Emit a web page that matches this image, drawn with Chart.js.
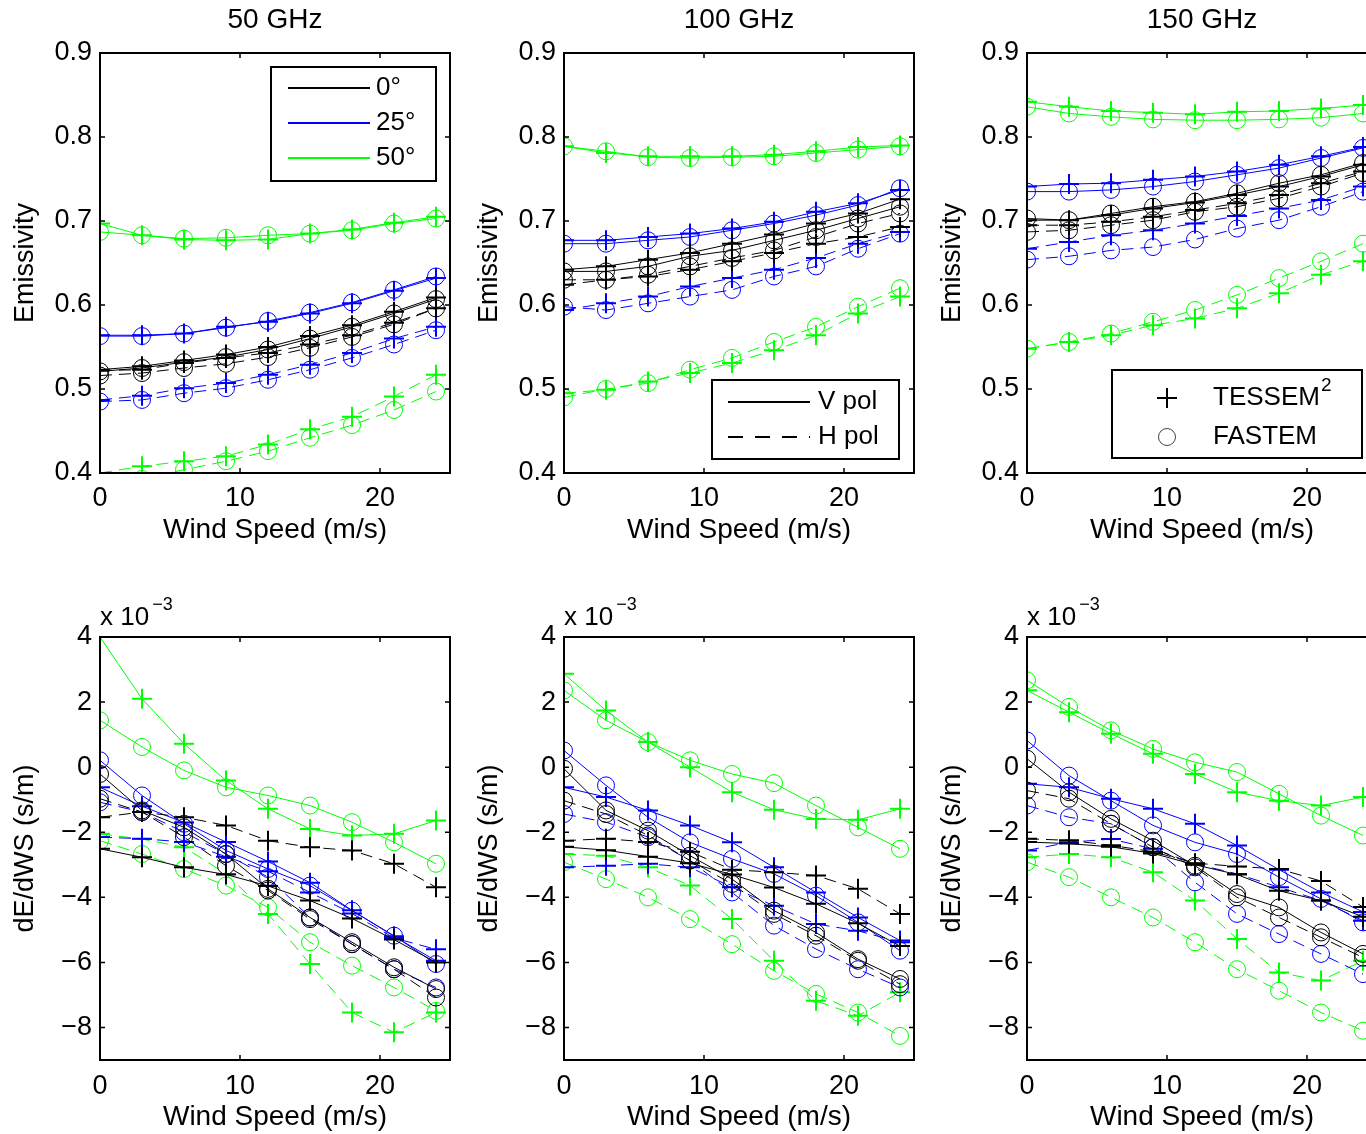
<!DOCTYPE html>
<html><head><meta charset="utf-8">
<script src="https://cdn.jsdelivr.net/npm/chart.js@4.4.1/dist/chart.umd.min.js"></script>
<style>
html,body{margin:0;padding:0;background:#fff;overflow:hidden;}
#wrap{position:relative;width:1366px;height:1134px;overflow:hidden;background:#fff;}
#wrap canvas{position:absolute;}
</style></head><body><div id="wrap"></div>
<script>
// ---------- categories / labels ----------
const windSpeed = [0, 3, 6, 9, 12, 15, 18, 21, 24];
const xTicks = [0, 10, 20];
const emisTicks = [0.4, 0.5, 0.6, 0.7, 0.8, 0.9];
const derivTicks = [-8, -6, -4, -2, 0, 2, 4];
const frequencies = ['50 GHz', '100 GHz', '150 GHz'];
const angleLabels = ['0°', '25°', '50°'];
const polLabels = ['V pol', 'H pol'];
const modelLabels = ['TESSEM', 'FASTEM'];

// ---------- Emissivity, 50 GHz ----------
const e50_0V_T  = [0.523, 0.527, 0.534, 0.541, 0.550, 0.563, 0.576, 0.592, 0.609];
const e50_0V_F  = [0.521, 0.525, 0.532, 0.538, 0.547, 0.560, 0.574, 0.590, 0.607];
const e50_0H_T  = [0.522, 0.523, 0.531, 0.537, 0.543, 0.553, 0.564, 0.579, 0.596];
const e50_0H_F  = [0.516, 0.519, 0.525, 0.530, 0.538, 0.549, 0.562, 0.577, 0.596];
const e50_25V_T = [0.564, 0.564, 0.566, 0.574, 0.580, 0.590, 0.602, 0.617, 0.632];
const e50_25V_F = [0.563, 0.563, 0.566, 0.573, 0.581, 0.591, 0.603, 0.618, 0.634];
const e50_25H_T = [0.487, 0.492, 0.501, 0.507, 0.517, 0.529, 0.543, 0.560, 0.574];
const e50_25H_F = [0.485, 0.487, 0.495, 0.501, 0.511, 0.523, 0.537, 0.553, 0.570];
const e50_50V_T = [0.697, 0.683, 0.678, 0.677, 0.678, 0.685, 0.690, 0.698, 0.705];
const e50_50V_F = [0.687, 0.683, 0.679, 0.680, 0.683, 0.685, 0.689, 0.697, 0.703];
const e50_50H_T = [0.400, 0.408, 0.414, 0.420, 0.434, 0.452, 0.467, 0.491, 0.517];
const e50_50H_F = [0.386, 0.393, 0.404, 0.414, 0.426, 0.442, 0.457, 0.475, 0.497];

// ---------- Emissivity, 100 GHz ----------
const e100_0V_T  = [0.642, 0.646, 0.654, 0.662, 0.673, 0.684, 0.697, 0.709, 0.726];
const e100_0V_F  = [0.640, 0.640, 0.646, 0.658, 0.665, 0.677, 0.689, 0.703, 0.717];
const e100_0H_T  = [0.624, 0.630, 0.634, 0.642, 0.652, 0.662, 0.673, 0.681, 0.693];
const e100_0H_F  = [0.630, 0.630, 0.636, 0.646, 0.656, 0.665, 0.681, 0.697, 0.709];
const e100_25V_T = [0.677, 0.677, 0.681, 0.685, 0.691, 0.699, 0.711, 0.721, 0.737];
const e100_25V_F = [0.673, 0.673, 0.677, 0.681, 0.689, 0.697, 0.707, 0.719, 0.739];
const e100_25H_T = [0.594, 0.602, 0.610, 0.622, 0.632, 0.642, 0.656, 0.673, 0.687];
const e100_25H_F = [0.598, 0.594, 0.602, 0.610, 0.618, 0.634, 0.646, 0.667, 0.685];
const e100_50V_T = [0.789, 0.781, 0.777, 0.777, 0.777, 0.779, 0.783, 0.788, 0.790];
const e100_50V_F = [0.789, 0.783, 0.776, 0.775, 0.776, 0.777, 0.781, 0.785, 0.789];
const e100_50H_T = [0.495, 0.499, 0.509, 0.519, 0.531, 0.546, 0.564, 0.590, 0.610];
const e100_50H_F = [0.490, 0.500, 0.507, 0.523, 0.537, 0.556, 0.574, 0.598, 0.620];

// ---------- Emissivity, 150 GHz ----------
const e150_0V_T  = [0.701, 0.701, 0.707, 0.715, 0.722, 0.731, 0.741, 0.753, 0.767];
const e150_0V_F  = [0.703, 0.701, 0.709, 0.717, 0.723, 0.733, 0.745, 0.755, 0.769];
const e150_0H_T  = [0.695, 0.695, 0.699, 0.705, 0.713, 0.721, 0.731, 0.745, 0.759];
const e150_0H_F  = [0.687, 0.689, 0.695, 0.701, 0.711, 0.717, 0.727, 0.741, 0.757];
const e150_25V_T = [0.741, 0.744, 0.745, 0.749, 0.753, 0.759, 0.767, 0.777, 0.788];
const e150_25V_F = [0.735, 0.735, 0.737, 0.741, 0.747, 0.755, 0.763, 0.775, 0.787];
const e150_25H_T = [0.667, 0.675, 0.683, 0.689, 0.697, 0.706, 0.715, 0.725, 0.741];
const e150_25H_F = [0.654, 0.658, 0.665, 0.669, 0.678, 0.691, 0.701, 0.717, 0.735];
const e150_50V_T = [0.842, 0.836, 0.831, 0.829, 0.827, 0.830, 0.831, 0.834, 0.838];
const e150_50V_F = [0.836, 0.828, 0.824, 0.821, 0.820, 0.820, 0.821, 0.823, 0.828];
const e150_50H_T = [0.548, 0.556, 0.564, 0.576, 0.584, 0.596, 0.614, 0.636, 0.652];
const e150_50H_F = [0.548, 0.556, 0.566, 0.580, 0.594, 0.612, 0.632, 0.652, 0.673];

// ---------- dE/dWS (x 10^-3), 50 GHz ----------
const d50_0V_T  = [-2.51, -2.77, -3.08, -3.30, -3.65, -4.10, -4.65, -5.30, -6.00];
const d50_0V_F  = [-0.21, -1.33, -1.85, -2.67, -3.74, -4.62, -5.38, -6.15, -6.82];
const d50_0H_T  = [-1.54, -1.38, -1.54, -1.79, -2.26, -2.46, -2.56, -2.97, -3.69];
const d50_0H_F  = [-0.97, -1.38, -2.15, -3.03, -3.79, -4.67, -5.44, -6.21, -7.08];
const d50_25V_T = [-0.62, -1.20, -1.70, -2.30, -2.90, -3.55, -4.40, -5.20, -5.95];
const d50_25V_F = [0.21, -0.87, -1.74, -2.56, -3.13, -3.64, -4.41, -5.18, -6.05];
const d50_25H_T = [-2.15, -2.20, -2.30, -2.75, -3.20, -3.85, -4.50, -5.25, -5.60];
const d50_25H_F = [-1.08, -1.38, -2.00, -2.67, -3.38, -4.62, -5.44, -6.21, -6.77];
const d50_50V_T = [4.00, 2.10, 0.72, -0.41, -1.28, -1.90, -2.10, -2.05, -1.64];
const d50_50V_F = [1.44, 0.62, -0.10, -0.62, -0.87, -1.18, -1.69, -2.31, -2.97];
const d50_50H_T = [-2.05, -2.21, -2.46, -3.28, -4.51, -6.05, -7.54, -8.15, -7.54];
const d50_50H_F = [-2.26, -2.67, -3.13, -3.64, -4.31, -5.38, -6.10, -6.77, -7.49];

// ---------- dE/dWS (x 10^-3), 100 GHz ----------
const d100_0V_T  = [-2.45, -2.55, -2.75, -2.95, -3.30, -3.70, -4.20, -4.80, -5.50];
const d100_0V_F  = [-0.05, -1.33, -1.95, -2.72, -3.44, -4.41, -5.08, -5.90, -6.51];
const d100_0H_T  = [-2.26, -2.20, -2.30, -2.60, -3.15, -3.23, -3.33, -3.74, -4.51];
const d100_0H_F  = [-1.03, -1.44, -2.10, -2.87, -3.59, -4.51, -5.18, -5.95, -6.67];
const d100_25V_T = [-0.62, -0.92, -1.33, -1.79, -2.31, -3.08, -3.85, -4.62, -5.33];
const d100_25V_F = [0.51, -0.56, -1.54, -2.31, -2.82, -3.28, -3.95, -4.77, -5.64];
const d100_25H_T = [-3.08, -3.03, -2.97, -3.08, -3.69, -4.26, -4.82, -5.03, -5.38];
const d100_25H_F = [-1.44, -1.69, -2.15, -2.87, -3.85, -4.87, -5.59, -6.21, -6.77];
const d100_50V_T = [2.87, 1.74, 0.77, 0.00, -0.77, -1.31, -1.59, -1.62, -1.28];
const d100_50V_F = [2.36, 1.44, 0.77, 0.21, -0.21, -0.49, -1.18, -1.85, -2.51];
const d100_50H_T = [-2.67, -2.72, -3.08, -3.64, -4.67, -5.95, -7.18, -7.64, -6.92];
const d100_50H_F = [-2.92, -3.44, -4.00, -4.67, -5.44, -6.26, -6.97, -7.54, -8.26];

// ---------- dE/dWS (x 10^-3), 150 GHz ----------
const d150_0V_T  = [-2.30, -2.35, -2.45, -2.65, -3.00, -3.30, -3.80, -4.10, -4.60];
const d150_0V_F  = [0.26, -0.77, -1.59, -2.26, -3.03, -3.90, -4.31, -5.08, -5.74];
const d150_0H_T  = [-2.20, -2.25, -2.40, -2.60, -2.95, -3.05, -3.13, -3.50, -4.30];
const d150_0H_F  = [-0.72, -0.97, -1.74, -2.46, -3.08, -4.00, -4.62, -5.23, -5.85];
const d150_25V_T = [-0.51, -0.62, -0.97, -1.28, -1.74, -2.41, -3.15, -3.85, -4.45];
const d150_25V_F = [0.82, -0.26, -1.03, -1.79, -2.31, -2.67, -3.38, -4.05, -4.77];
const d150_25H_T = [-2.56, -2.31, -2.21, -2.51, -2.97, -3.28, -3.69, -4.10, -4.72];
const d150_25H_F = [-1.18, -1.54, -1.74, -2.46, -3.54, -4.51, -5.13, -5.74, -6.36];
const d150_50V_T = [2.36, 1.69, 1.03, 0.41, -0.21, -0.77, -1.03, -1.18, -0.92];
const d150_50V_F = [2.67, 1.85, 1.13, 0.56, 0.15, -0.15, -0.82, -1.49, -2.10];
const d150_50H_T = [-2.77, -2.67, -2.77, -3.23, -4.10, -5.28, -6.31, -6.56, -5.95];
const d150_50H_F = [-2.92, -3.38, -4.00, -4.62, -5.38, -6.21, -6.87, -7.54, -8.10];

// series order: angle (0,25,50) x pol (V,H) x model (TESSEM, FASTEM)
const e50Series  = [e50_0V_T, e50_0V_F, e50_0H_T, e50_0H_F, e50_25V_T, e50_25V_F, e50_25H_T, e50_25H_F, e50_50V_T, e50_50V_F, e50_50H_T, e50_50H_F];
const e100Series = [e100_0V_T, e100_0V_F, e100_0H_T, e100_0H_F, e100_25V_T, e100_25V_F, e100_25H_T, e100_25H_F, e100_50V_T, e100_50V_F, e100_50H_T, e100_50H_F];
const e150Series = [e150_0V_T, e150_0V_F, e150_0H_T, e150_0H_F, e150_25V_T, e150_25V_F, e150_25H_T, e150_25H_F, e150_50V_T, e150_50V_F, e150_50H_T, e150_50H_F];
const d50Series  = [d50_0V_T, d50_0V_F, d50_0H_T, d50_0H_F, d50_25V_T, d50_25V_F, d50_25H_T, d50_25H_F, d50_50V_T, d50_50V_F, d50_50H_T, d50_50H_F];
const d100Series = [d100_0V_T, d100_0V_F, d100_0H_T, d100_0H_F, d100_25V_T, d100_25V_F, d100_25H_T, d100_25H_F, d100_50V_T, d100_50V_F, d100_50H_T, d100_50H_F];
const d150Series = [d150_0V_T, d150_0V_F, d150_0H_T, d150_0H_F, d150_25V_T, d150_25V_F, d150_25H_T, d150_25H_F, d150_50V_T, d150_50V_F, d150_50H_T, d150_50H_F];

// ---------- styling ----------
const FONT = "'Liberation Sans', Arial, Helvetica, sans-serif";
const angleColors = ['#000000', '#0000ff', '#00ff00'];
const PLOT_W = 350, Y_AXIS_W = 100, TOP_PAD = 53, X_AXIS_H = 74, RIGHT_PAD = 16;
const panelLefts = [100, 564, 1027];
const rowTops = [53, 637];
const rowHeights = [420, 423];

function buildDatasets(series) {
  const out = [];
  let k = 0;
  for (let a = 0; a < 3; a++) {
    for (const pol of ['V', 'H']) {
      for (const model of ['T', 'F']) {
        const arr = series[k++];
        const col = angleColors[a];
        out.push({
          label: angleLabels[a] + ' ' + pol + ' ' + model,
          data: windSpeed.map((x, i) => ({x: x, y: arr[i]})),
          borderColor: col,
          backgroundColor: col,
          borderWidth: 1,
          borderDash: pol === 'H' ? [12, 7] : [],
          pointStyle: model === 'T' ? 'cross' : 'circle',
          pointRadius: model === 'T' ? 10 : 8.5,
          pointBorderWidth: model === 'T' ? 2 : 1,
          pointBorderColor: col,
          pointBackgroundColor: 'rgba(0,0,0,0)',
          fill: false, tension: 0
        });
      }
    }
  }
  return out;
}

function line(ctx, x1, y1, x2, y2) { ctx.beginPath(); ctx.moveTo(x1, y1); ctx.lineTo(x2, y2); ctx.stroke(); }

function drawLegend(ctx, ca, kind) {
  ctx.save();
  ctx.font = '26px ' + FONT;
  ctx.textBaseline = 'middle';
  ctx.textAlign = 'left';
  if (kind === 'angle') {
    const bx = ca.left + 171, by = ca.top + 14, bw = 165, bh = 114;
    ctx.fillStyle = '#fff'; ctx.fillRect(bx, by, bw, bh);
    ctx.lineWidth = 2; ctx.strokeStyle = '#000'; ctx.strokeRect(bx, by, bw, bh);
    angleLabels.forEach((lab, i) => {
      const yy = ca.top + 35 + i * 35;
      ctx.strokeStyle = angleColors[i]; ctx.lineWidth = 2;
      line(ctx, ca.left + 188, yy, ca.left + 270, yy);
      ctx.fillStyle = '#000'; ctx.fillText(lab, ca.left + 276, yy);
    });
  } else if (kind === 'pol') {
    const bx = ca.left + 148, by = ca.top + 327, bw = 187, bh = 79;
    ctx.fillStyle = '#fff'; ctx.fillRect(bx, by, bw, bh);
    ctx.lineWidth = 2; ctx.strokeStyle = '#000'; ctx.strokeRect(bx, by, bw, bh);
    polLabels.forEach((lab, i) => {
      const yy = ca.top + 349 + i * 35;
      ctx.strokeStyle = '#000'; ctx.lineWidth = 2;
      ctx.setLineDash(i === 1 ? [15, 12] : []);
      line(ctx, ca.left + 164, yy, ca.left + 246, yy);
      ctx.setLineDash([]);
      ctx.fillStyle = '#000'; ctx.fillText(lab, ca.left + 254, yy);
    });
  } else if (kind === 'model') {
    const bx = ca.left + 85, by = ca.top + 317, bw = 250, bh = 88;
    ctx.fillStyle = '#fff'; ctx.fillRect(bx, by, bw, bh);
    ctx.lineWidth = 2; ctx.strokeStyle = '#000'; ctx.strokeRect(bx, by, bw, bh);
    const mx = ca.left + 140, y1 = ca.top + 345, y2 = ca.top + 384, tx = ca.left + 186;
    ctx.strokeStyle = '#000'; ctx.lineWidth = 2;
    line(ctx, mx - 10, y1, mx + 10, y1); line(ctx, mx, y1 - 10, mx, y1 + 10);
    ctx.lineWidth = 1; ctx.strokeStyle = '#444';
    ctx.beginPath(); ctx.arc(mx, y2, 8.5, 0, Math.PI * 2); ctx.stroke();
    ctx.fillStyle = '#000';
    ctx.fillText(modelLabels[0], tx, y1);
    const w = ctx.measureText(modelLabels[0]).width;
    ctx.font = '19px ' + FONT;
    ctx.fillText('2', tx + w + 1, y1 - 12);
    ctx.font = '26px ' + FONT;
    ctx.fillText(modelLabels[1], tx, y2);
  }
  ctx.restore();
}

function makeDecor(opts) {
  return {
    id: 'panelDecor',
    afterDatasetsDraw(chart) {
      const {ctx, chartArea: ca} = chart;
      const xs = chart.scales.x, ys = chart.scales.y;
      ctx.save();
      ctx.strokeStyle = '#000'; ctx.lineWidth = 1.5; ctx.setLineDash([]);
      ctx.beginPath();
      for (const v of xTicks) {
        const px = xs.getPixelForValue(v);
        ctx.moveTo(px, ca.bottom); ctx.lineTo(px, ca.bottom - 5);
        ctx.moveTo(px, ca.top); ctx.lineTo(px, ca.top + 5);
      }
      for (const v of opts.yTicks) {
        const py = ys.getPixelForValue(v);
        ctx.moveTo(ca.left, py); ctx.lineTo(ca.left + 5, py);
        ctx.moveTo(ca.right, py); ctx.lineTo(ca.right - 5, py);
      }
      ctx.stroke();
      ctx.lineWidth = 2;
      ctx.strokeRect(ca.left, ca.top, ca.right - ca.left, ca.bottom - ca.top);
      ctx.restore();
      if (opts.legend) drawLegend(ctx, ca, opts.legend);
    },
    afterDraw(chart) {
      const {ctx, chartArea: ca} = chart;
      ctx.save();
      ctx.fillStyle = '#000';
      if (opts.title) {
        ctx.font = '28px ' + FONT;
        ctx.textAlign = 'center'; ctx.textBaseline = 'middle';
        ctx.fillText(opts.title, (ca.left + ca.right) / 2, ca.top - 33);
      }
      if (opts.exponent) {
        ctx.font = '26px ' + FONT;
        ctx.textAlign = 'left'; ctx.textBaseline = 'alphabetic';
        ctx.fillText('x 10', ca.left, ca.top - 12);
        const w = ctx.measureText('x 10').width;
        ctx.font = '18px ' + FONT;
        ctx.fillText('\u22123', ca.left + w + 3, ca.top - 27);
      }
      ctx.restore();
    }
  };
}

function makePanel(row, col, series) {
  const isE = row === 0;
  const canvas = document.createElement('canvas');
  const w = Y_AXIS_W + PLOT_W + RIGHT_PAD;
  const h = TOP_PAD + rowHeights[row] + X_AXIS_H;
  canvas.width = w; canvas.height = h;
  canvas.style.width = w + 'px'; canvas.style.height = h + 'px';
  canvas.style.left = (panelLefts[col] - Y_AXIS_W) + 'px';
  canvas.style.top = (rowTops[row] - TOP_PAD) + 'px';
  document.getElementById('wrap').appendChild(canvas);
  const yT = isE ? emisTicks : derivTicks;
  const font27 = {family: FONT, size: 27};
  const font28 = {family: FONT, size: 28};
  new Chart(canvas.getContext('2d'), {
    type: 'line',
    data: {datasets: buildDatasets(series)},
    options: {
      responsive: false, animation: false, devicePixelRatio: 1, events: [],
      layout: {padding: {top: TOP_PAD, left: 0, right: RIGHT_PAD, bottom: 0}},
      plugins: {legend: {display: false}, tooltip: {enabled: false}, title: {display: false}},
      scales: {
        x: {
          type: 'linear', min: 0, max: 25, bounds: 'data',
          afterBuildTicks: s => { s.ticks = xTicks.map(v => ({value: v})); },
          afterFit: s => { s.height = X_AXIS_H; },
          grid: {display: false, drawTicks: false}, border: {display: false},
          ticks: {padding: row === 0 ? 9 : 10, color: '#000', font: font27, maxRotation: 0, autoSkip: false},
          title: {display: true, text: 'Wind Speed (m/s)', color: '#000', font: font28, padding: {top: 0, bottom: 0}}
        },
        y: {
          type: 'linear', min: isE ? 0.4 : -9, max: isE ? 0.9 : 4, bounds: 'data',
          afterBuildTicks: s => { s.ticks = yT.map(v => ({value: v})); },
          afterFit: s => { s.width = Y_AXIS_W; },
          grid: {display: false, drawTicks: false}, border: {display: false},
          ticks: {padding: 8, color: '#000', font: font27, autoSkip: false,
            callback: v => isE ? Number(v).toFixed(1) : (v < 0 ? '\u2212' + Math.abs(v) : String(v))},
          title: {display: true, text: isE ? 'Emissivity' : 'dE/dWS (s/m)', color: '#000', font: font27, padding: {top: 9, bottom: 0}}
        }
      }
    },
    plugins: [makeDecor({
      yTicks: yT,
      title: isE ? frequencies[col] : null,
      exponent: !isE,
      legend: isE ? ['angle', 'pol', 'model'][col] : null
    })]
  });
}

makePanel(0, 0, e50Series);
makePanel(0, 1, e100Series);
makePanel(0, 2, e150Series);
makePanel(1, 0, d50Series);
makePanel(1, 1, d100Series);
makePanel(1, 2, d150Series);
</script>
</body></html>
